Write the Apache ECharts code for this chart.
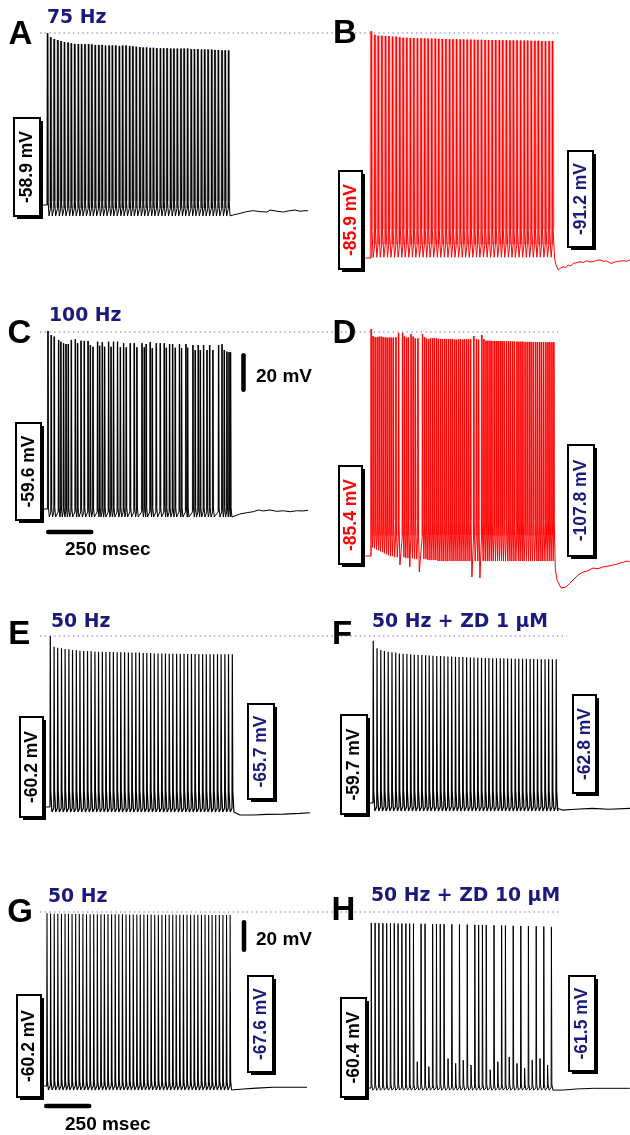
<!DOCTYPE html>
<html><head><meta charset="utf-8">
<script src="https://cdn.jsdelivr.net/npm/echarts@6/dist/echarts.min.js"></script>
<style>html,body{margin:0;padding:0;background:#fff;}#c{width:630px;height:1135px;}</style>
</head><body><div id="c"></div>
<script>
// ---------------- DATA (time in ms from stimulus onset, voltage in mV) ----------------
const panelLetters = ['A','B','C','D','E','F','G','H'];
const titles = ['75 Hz','','100 Hz','','50 Hz','50 Hz + ZD 1 \u03bcM','50 Hz','50 Hz + ZD 10 \u03bcM'];
const restLabels = ['-58.9 mV','-85.9 mV','-59.6 mV','-85.4 mV','-60.2 mV','-59.7 mV','-60.2 mV','-60.4 mV'];
const postLabels = [null,'-91.2 mV',null,'-107.8 mV','-65.7 mV','-62.8 mV','-67.6 mV','-61.5 mV'];
const restValues = [-58.9,-85.9,-59.6,-85.4,-60.2,-59.7,-60.2,-60.4];
const scaleBarMs = 250, scaleBarMv = 20;

// spike onset times
const tA = [0,17,35,54,71,89,108,125,143,162,179,197,216,233,251,270,287,305,324,341,359,378,395,413,432,449,467,486,503,521,540,557,575,594,611,629,648,665,683,702,719,737,756,773,791,810,827,845,864,881,899,918,935,953];
const tB = [0,19,37,56,75,93,112,131,150,168,187,206,224,243,262,281,299,318,337,355,374,393,412,430,449,468,486,505,524,543,561,580,599,617,636,655,674,692,711,730,748,767,786,805,823,842,861,879,898,917,936,954];
const tC = [0,17,33,56,68,82,95,107,123,144,156,174,191,211,223,237,261,272,286,298,319,332,345,366,381,398,412,433,454,468,495,507,517,538,549,570,591,612,623,640,656,670,692,703,726,735,763,775,791,802,819,837,851,868,898,916,928,942,953,961];
const tD = [0,10,21,32,42,53,63,74,84,95,105,116,130,144,165,175,186,196,210,221,232,246,270,281,291,302,312,323,333,344,354,365,375,386,396,407,418,428,439,449,460,470,481,491,502,512,523,540,554,565,582,593,604,614,625,635,647,658,668,679,689,700,712,723,733,744,754,767,777,788,798,810,821,832,842,853,865,875,886,896,907,919,930,940,951,961];
const tE = [0,20,39,59,78,98,117,137,156,176,196,215,235,254,274,293,313,332,352,371,391,411,430,450,469,489,508,528,547,567,587,606,626,645,665,684,704,723,743,762,782,802,821,841,860,880,899,919,938,958];
const tF = [0,20,40,59,79,99,119,138,158,178,198,217,237,257,277,296,316,336,356,375,395,415,435,454,474,494,514,533,553,573,593,612,632,652,672,691,711,731,751,770,790,810,830,849,869,889,909,928,948,968];
const tG = [0,19,38,57,76,95,113,132,151,170,189,208,227,246,265,284,302,321,340,359,378,397,416,435,454,473,491,510,529,548,567,586,605,624,643,662,680,699,718,737,756,775,794,813,832,851,869,888,907,926,945,964];
const tH = [0,20,40,61,81,101,121,141,161,182,202,222,242,262,283,303,323,343,363,383,404,424,444,464,484,505,525,545,565,585,605,626,646,666,686,706,726,747,767,787,807,827,847,868,888,908,928,948];

// spike peak voltages
const pA = [29.2,27.1,26.2,25.7,25.2,24.7,24.4,24.0,23.7,23.7,23.7,23.6,23.6,23.4,23.2,23.2,23.2,22.9,22.9,22.9,22.9,22.7,22.9,22.9,22.7,22.5,22.3,22.1,21.9,21.9,21.7,21.7,21.5,21.5,21.5,21.5,21.3,21.3,21.3,21.3,21.3,21.3,21.1,21.1,21.1,20.9,20.9,20.8,20.8,20.6,20.6,20.4,20.4,20.3];
const pB = [30.4,28.6,28.1,28.1,27.9,27.9,27.6,27.6,27.3,27.1,27.1,26.9,26.9,26.8,26.8,26.7,26.6,26.6,26.6,26.5,26.4,26.4,26.3,26.3,26.3,26.2,26.2,26.1,26.1,26.0,26.0,26.0,25.9,25.9,25.9,25.9,25.8,25.8,25.8,25.7,25.7,25.7,25.6,25.6,25.6,25.5,25.5,25.5,25.4,25.4,25.4,25.4];
const pC = [31.7,29.6,28.8,27.1,26.2,25.4,25.0,25.0,27.1,27.4,25.4,26.7,26.6,26.6,24.5,23.6,26.2,24.1,25.9,23.6,26.2,23.6,26.2,26.2,23.3,25.4,23.3,25.4,25.4,23.3,25.4,23.3,25.0,25.9,22.8,25.4,25.4,25.4,23.1,25.0,25.0,23.1,24.9,22.8,25.0,23.1,24.5,21.9,24.5,21.9,24.5,21.9,24.5,21.9,24.5,24.9,21.9,21.1,20.8,20.8];
const pD = [31.0,27.4,26.8,26.8,27.1,27.1,26.8,26.8,26.6,26.6,26.6,26.6,26.8,29.0,29.0,27.1,26.6,26.6,28.4,27.1,26.2,26.2,28.4,26.8,26.2,25.9,26.2,26.2,26.2,26.2,25.9,25.9,25.9,25.9,25.9,25.9,25.9,25.9,25.5,25.5,25.7,25.7,25.5,25.7,25.7,25.7,25.7,27.4,25.9,25.5,27.9,25.9,25.0,25.0,25.0,24.9,24.9,24.9,24.8,24.8,24.8,24.7,24.7,24.7,24.6,24.6,24.6,24.5,24.5,24.5,24.5,24.4,24.4,24.4,24.4,24.3,24.3,24.3,24.3,24.2,24.2,24.2,24.2,24.2,24.2,24.2];
const pE = [46.7,40.0,39.4,39.0,38.6,38.4,38.0,37.7,37.5,37.3,37.3,37.1,36.9,36.9,36.9,36.7,36.7,36.7,36.5,36.5,36.5,36.3,36.3,36.3,36.3,36.1,36.1,36.1,35.8,35.8,35.8,35.8,35.6,35.6,35.6,35.6,35.6,35.4,35.4,35.4,35.4,35.4,35.2,35.2,35.2,35.2,35.2,35.2,35.2,35.2];
const pF = [41.7,37.0,35.9,35.3,34.9,34.5,34.3,33.8,33.6,33.4,33.2,33.0,32.9,32.8,32.6,32.5,32.4,32.2,32.1,32.0,31.9,31.8,31.7,31.6,31.5,31.4,31.3,31.2,31.1,31.0,30.9,30.9,30.8,30.8,30.7,30.7,30.6,30.6,30.5,30.5,30.4,30.4,30.3,30.3,30.2,30.2,30.1,30.1,30.1,30.1];
const pG = [47.7,47.6,47.5,47.5,47.4,47.4,47.3,47.3,47.3,47.3,47.3,47.2,47.2,47.2,47.2,47.2,47.1,47.1,47.1,47.1,47.1,47.1,47.0,47.0,47.0,47.0,47.0,47.0,47.0,47.0,46.9,46.9,46.9,46.9,46.9,46.9,46.9,46.9,46.8,46.8,46.8,46.8,46.8,46.8,46.8,46.7,46.7,46.7,46.7,46.7,46.7,46.7];
const pH = [42.7,42.7,42.6,42.6,42.5,42.5,42.5,42.4,42.4,42.4,42.3,42.3,-44,42.2,42.2,-47,42.1,42.1,42.0,42.0,-42,41.9,-45,41.8,-43,41.7,-46,41.6,41.5,41.5,41.4,-49,41.3,-44,41.2,41.1,-41,41.0,-45,40.9,-48,40.8,-43,40.7,-42,40.5,-46,40.3];

// after-spike trough levels (D varies spike by spike)
const trD = [-81,-81.5,-82,-82.5,-83,-83.5,-84,-84.5,-85,-85.5,-85.5,-86,-86,-90,-86,-86.5,-86.5,-91,-86.5,-87,-87,-93.6,-87,-87,-87.5,-87.5,-87.5,-87.5,-87.5,-88,-88,-88,-88,-88,-88,-88,-88,-88,-88,-88,-88,-88,-88,-88,-88,-88,-96.2,-88,-88,-96.7,-88,-88,-88,-88,-88,-88,-88,-88,-88,-88,-88,-88,-88,-88,-88,-88,-88,-88,-88,-88,-88,-88,-88,-88,-88,-88,-88,-88,-88,-88,-88,-88,-88,-88,-88,-88];
const troughLevels = [-64.5,-85.5,-63.7,null,-63.3,-64.7,-62.7,-61.7];
const preSpikeLevels = [-60.5,-79,-61,-75,-61,-62,-60,-60.4];
const kneeLevels = [-57,-71,-58,-67,-50,-52,-57,-58];

// post-stimulus traces
const tailTA = [979,1014,1049,1084,1119,1156,1172,1208,1243,1277,1304,1330,1356,1383];
const tailVA = [-64.0,-63.2,-62.3,-61.8,-62.3,-62.5,-61.5,-62.1,-62.5,-61.8,-61.5,-62.1,-61.8,-62.0];
const tailTB = [970,986,999,1012,1025,1038,1052,1065,1083,1100,1118,1135,1152,1170,1188,1205,1223,1241,1254,1267,1280,1293,1310,1328,1346,1362];
const tailVB = [-88.5,-92.1,-91.0,-90.4,-90.8,-89.5,-89.9,-88.7,-88.3,-87.8,-88.2,-87.3,-87.9,-87.8,-87.1,-86.9,-87.6,-87.4,-88.2,-88.7,-88.0,-87.8,-87.5,-87.3,-87.6,-86.9];
const tailTC = [975,1010,1047,1082,1109,1135,1170,1205,1240,1276,1310,1345,1381];
const tailVC = [-62.7,-62.2,-61.5,-61.0,-60.1,-60.6,-60.1,-60.8,-60.5,-61.0,-60.5,-60.6,-60.1];
const tailTD = [970,979,1000,1026,1045,1063,1090,1116,1142,1168,1195,1221,1247,1274,1292,1311,1330,1347,1362];
const tailVD = [-92,-97.7,-101.8,-101.3,-99.5,-97.7,-95.2,-93.6,-92.9,-91.6,-91.9,-91.0,-90.6,-90.0,-89.7,-89.0,-88.6,-88.0,-88.3];
const tailTE = [974,1000,1070,1140,1228,1316,1368];
const tailVE = [-64.2,-65.2,-65.2,-64.8,-64.6,-64.2,-63.8];
const tailTF = [975,1002,1072,1160,1247,1362];
const tailVF = [-63.0,-64.1,-63.6,-63.0,-63.6,-63.0];
const tailTG = [982,1035,1105,1193,1281,1386];
const tailVG = [-62.5,-62.1,-61.5,-61.0,-61.0,-61.0];
const tailTH = [959,1012,1083,1170,1258,1362];
const tailVH = [-61.7,-61.7,-61.0,-60.6,-60.6,-60.6];

const spikeTimes = [tA,tB,tC,tD,tE,tF,tG,tH];
const spikePeaks = [pA,pB,pC,pD,pE,pF,pG,pH];
const tailTimes = [tailTA,tailTB,tailTC,tailTD,tailTE,tailTF,tailTG,tailTH];
const tailValues = [tailVA,tailVB,tailVC,tailVD,tailVE,tailVF,tailVG,tailVH];

// ---------------- LAYOUT & STYLE ----------------
const SX = 0.19; // px per ms
const layout = [
  {x0:47.3, yb:205, sy:1.95}, {x0:371, yb:258, sy:1.95},
  {x0:47.7, yb:509, sy:1.95}, {x0:371, yb:556, sy:1.95},
  {x0:50, yb:807, sy:1.6},    {x0:373, yb:803, sy:1.6},
  {x0:46.7, yb:1086, sy:1.6}, {x0:371, yb:1088, sy:1.6}
];
const styles = [
  {c:'#000', u:'#909090', uw:2.4, lw:1, r:1.5, f1:2.5, f2:5},
  {c:'#ff0000', u:'#ff8e8e', uw:2.8, lw:1, r:1.5, f1:2.5, f2:8},
  {c:'#000', u:'#9a9a9a', uw:1.8, lw:1, r:1.5, f1:2, f2:5},
  {c:'#ff0000', u:'#ff8e8e', uw:1.9, lw:1, r:1.2, f1:2, f2:5},
  {c:'#000', u:null, uw:0, lw:1.2, r:1.5, f1:2.5, f2:6},
  {c:'#000', u:null, uw:0, lw:1.2, r:1.5, f1:2.5, f2:6},
  {c:'#000', u:null, uw:0, lw:1.1, r:1.5, f1:2.5, f2:5},
  {c:'#000', u:null, uw:0, lw:1, r:1.5, f1:2.5, f2:5}
];
const XMIN = -30, XMAX = 1360;
const UP = 190, DOWN = 40; // grid extent above/below the resting level, px
const NAVY = '#1a1a7c';

const grids = [], xAxes = [], yAxes = [], series = [];
for (let i = 0; i < 8; i++) {
  const L = layout[i];
  grids.push({left: L.x0 + XMIN*SX, top: L.yb - UP, width: (XMAX-XMIN)*SX, height: UP + DOWN});
  xAxes.push({type:'value', gridIndex:i, min:XMIN, max:XMAX, show:false});
  yAxes.push({type:'value', gridIndex:i, show:false,
    max: restValues[i] + UP/L.sy, min: restValues[i] - DOWN/L.sy});
  const S = styles[i];
  const base = restValues[i];
  const ts = spikeTimes[i], ps = spikePeaks[i];
  const main = [[XMIN, base],[0, base]];
  const under = [];
  for (let k = 0; k < ts.length; k++) {
    const t = ts[k], p = ps[k];
    const tr = troughLevels[i] === null ? trD[k] : troughLevels[i];
    const pre = k === 0 ? base : preSpikeLevels[i];
    const knee = Math.min(kneeLevels[i], p);
    if (k > 0) main.push([t, pre]);
    main.push([t + S.r, p]);
    main.push([t + S.r + S.f1, knee]);
    main.push([t + S.r + S.f1 + S.f2, tr]);
    under.push([t, pre],[t + S.r, p],[t + S.r + S.f1, knee],[t + S.r + S.f1 + 0.01, '-']);
  }
  const tt = tailTimes[i], tv = tailValues[i];
  for (let k = 0; k < tt.length; k++) main.push([tt[k], tv[k]]);
  if (S.u) series.push({type:'line', xAxisIndex:i, yAxisIndex:i, data:under, showSymbol:false, symbol:'none',
    silent:true, clip:false, connectNulls:false, lineStyle:{color:S.u, width:S.uw}, z:2});
  series.push({type:'line', xAxisIndex:i, yAxisIndex:i, data:main, showSymbol:false, symbol:'none',
    silent:true, clip:false, lineStyle:{color:S.c, width:S.lw}, z:3});
}

const chart = echarts.init(document.getElementById('c'), null, {renderer:'canvas'});
chart.setOption({animation:false, backgroundColor:'#fff', grid:grids, xAxis:xAxes, yAxis:yAxes, series:series});

// ---------------- ANNOTATIONS ----------------
const g = [];
[[33,40,558],[332,40,558],[636,40,567],[912,40,562]].forEach(d => g.push({type:'line', z:1,
  shape:{x1:d[1], y1:d[0], x2:d[2], y2:d[0]}, style:{stroke:'#9d9de6', lineWidth:1.4, lineDash:[1.4,3.3]}}));
const letterPos = [[20.3,34.7],[345,34],[19.5,333.5],[344.5,333.5],[19.3,634.7],[342,635.3],[20,912.5],[343.3,911.3]];
panelLetters.forEach((s,i) => g.push({type:'text', z:50, x:letterPos[i][0], y:letterPos[i][1],
  style:{text:s, fill:'#000', fontSize:33, fontWeight:'bold', fontFamily:'"Liberation Sans", Arial, sans-serif', align:'center', verticalAlign:'middle'}}));
const titlePos = [[47,18],null,[49,316.5],null,[51,622],[372,622],[48,896.7],[371,896.3]];
titles.forEach((s,i) => { if (!s) return; g.push({type:'text', z:50, x:titlePos[i][0], y:titlePos[i][1],
  style:{text:s, fill:NAVY, fontSize:18.8, fontWeight:'bold', fontFamily:'"DejaVu Sans", sans-serif', align:'left', verticalAlign:'middle'}}); });
const restBox = [[14,118,26,98],[339,171,23,98],[16,423,25,97],[339,466,23,98],[20,717,23,100],[341,715,26,99],[17,995,24,102],[341,998,25,99]];
const postBox = [null,[568,151,25,96],null,[568,445,26,111],[248,704,26,95],[573,695,23,98],[248,976,25,96],[569,976,26,95]];
const restColor = ['#000','#ff0000','#000','#ff0000','#000','#000','#000','#000'];
function addBox(b, text, color) {
  g.push({type:'rect', z:40, shape:{x:b[0]+3, y:b[1]+3, width:b[2], height:b[3]}, style:{fill:'#000'}});
  g.push({type:'rect', z:41, shape:{x:b[0], y:b[1], width:b[2], height:b[3]}, style:{fill:'#fff', stroke:'#000', lineWidth:2}});
  g.push({type:'text', z:42, x:b[0]+b[2]/2+0.5, y:b[1]+b[3]/2, rotation:Math.PI/2,
    style:{text:text, fill:color, fontSize:17.5, fontWeight:'bold', fontFamily:'"Liberation Sans", Arial, sans-serif', align:'center', verticalAlign:'middle'}});
}
for (let i = 0; i < 8; i++) {
  addBox(restBox[i], restLabels[i], restColor[i]);
  if (postLabels[i]) addBox(postBox[i], postLabels[i], NAVY);
}
function barLen(idx) {
  const a = chart.convertToPixel({xAxisIndex:idx, yAxisIndex:idx}, [0, 0]);
  const b = chart.convertToPixel({xAxisIndex:idx, yAxisIndex:idx}, [scaleBarMs, scaleBarMv]);
  return [b[0]-a[0], a[1]-b[1]];
}
const bars = [{idx:2, vx:243.5, vy:353, hx:46, hy:532, tv:[256,377], th:[65,549.5]},
              {idx:6, vx:244, vy:920, hx:44, hy:1106, tv:[256,940], th:[65,1125]}];
bars.forEach(B => {
  const len = barLen(B.idx), w = 4.5;
  g.push({type:'line', z:45, shape:{x1:B.vx, y1:B.vy + w/2, x2:B.vx, y2:B.vy + len[1] - w/2}, style:{stroke:'#000', lineWidth:w, lineCap:'round'}});
  g.push({type:'line', z:45, shape:{x1:B.hx + w/2, y1:B.hy, x2:B.hx + len[0] - w/2, y2:B.hy}, style:{stroke:'#000', lineWidth:w, lineCap:'round'}});
  g.push({type:'text', z:45, x:B.tv[0], y:B.tv[1], style:{text:scaleBarMv + ' mV', fill:'#000', fontSize:19, fontWeight:'bold', fontFamily:'"Liberation Sans", Arial, sans-serif', align:'left', verticalAlign:'middle'}});
  g.push({type:'text', z:45, x:B.th[0], y:B.th[1], style:{text:scaleBarMs + ' msec', fill:'#000', fontSize:19, fontWeight:'bold', fontFamily:'"Liberation Sans", Arial, sans-serif', align:'left', verticalAlign:'middle'}});
});
chart.setOption({graphic:{elements:g}});
</script></body></html>
